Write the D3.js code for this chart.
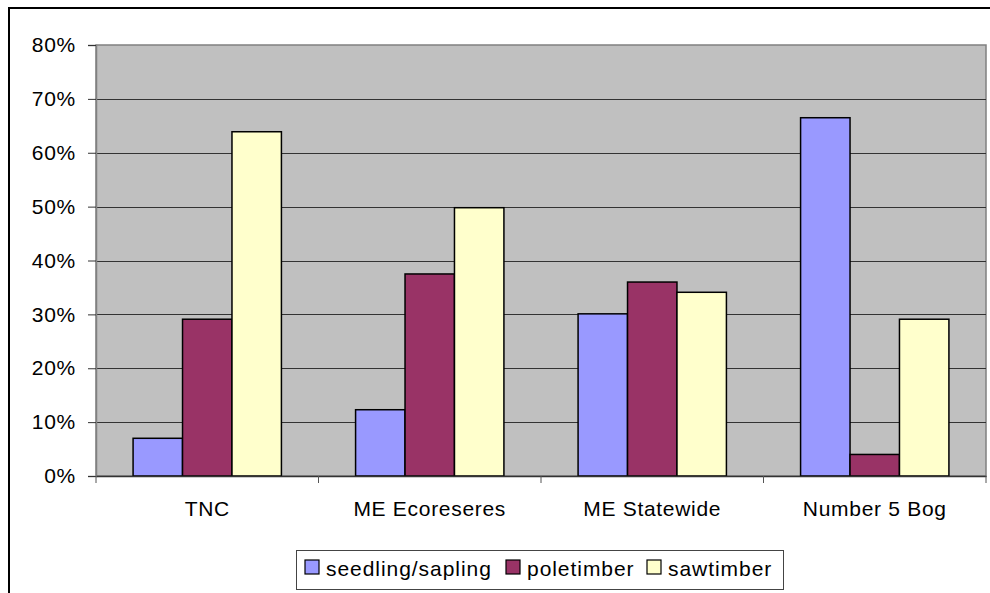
<!DOCTYPE html>
<html>
<head>
<meta charset="utf-8">
<script src="https://cdn.jsdelivr.net/npm/d3@7"></script>
<style>
body { margin: 0; background: #fff; }
text { font-family: "Liberation Sans", Arial, sans-serif; fill: #000; }
</style>
</head>
<body>
<div id="chart"></div>
<script>
var categories = ["TNC", "ME Ecoreseres", "ME Statewide", "Number 5 Bog"];
var seriesNames = ["seedling/sapling", "poletimber", "sawtimber"];
var seedling = [0.070, 0.123, 0.301, 0.665];
var poletimber = [0.291, 0.375, 0.360, 0.040];
var sawtimber = [0.639, 0.498, 0.341, 0.291];
var yTicks = [0, 0.1, 0.2, 0.3, 0.4, 0.5, 0.6, 0.7, 0.8];
var colors = ["#9999FF", "#993366", "#FFFFCC"];

var W = 990, H = 593;
var plot = {left: 96, top: 45, right: 986, bottom: 476};

var svg = d3.select("#chart").append("svg")
    .attr("width", W)
    .attr("height", H);

// outer chart frame (cropped at right and bottom)
svg.append("path")
    .attr("d", "M9," + H + "V8H" + (W + 5))
    .attr("fill", "none")
    .attr("stroke", "#000")
    .attr("stroke-width", 2);

var x0 = d3.scaleBand().domain(categories).range([plot.left, plot.right]);
var x1 = d3.scaleBand().domain(seriesNames).range([0, x0.bandwidth()])
    .paddingInner(0).paddingOuter(0.75);
var y = d3.scaleLinear().domain([0, 0.8]).range([plot.bottom, plot.top]);

svg.append("rect")
    .attr("x", plot.left)
    .attr("y", plot.top)
    .attr("width", plot.right - plot.left)
    .attr("height", plot.bottom - plot.top)
    .attr("fill", "#C0C0C0")
    .attr("stroke", "#808080")
    .attr("stroke-width", 1.5);

// gridlines
svg.append("g").selectAll("line")
    .data(yTicks.slice(1, -1))
    .enter().append("line")
    .attr("x1", plot.left)
    .attr("x2", plot.right)
    .attr("y1", function(d) { return Math.round(y(d)) + 0.5; })
    .attr("y2", function(d) { return Math.round(y(d)) + 0.5; })
    .attr("stroke", "#333")
    .attr("stroke-width", 1.2);

var data = categories.map(function(c, i) {
    return {cat: c, values: [seedling[i], poletimber[i], sawtimber[i]]};
});

var groups = svg.append("g").selectAll("g")
    .data(data)
    .enter().append("g")
    .attr("transform", function(d) { return "translate(" + x0(d.cat) + ",0)"; });

groups.selectAll("rect")
    .data(function(d) { return d.values.map(function(v, j) { return {name: seriesNames[j], value: v, j: j}; }); })
    .enter().append("rect")
    .attr("x", function(d) { return x1(d.name); })
    .attr("y", function(d) { return y(d.value); })
    .attr("width", x1.bandwidth())
    .attr("height", function(d) { return y(0) - y(d.value); })
    .attr("fill", function(d) { return colors[d.j]; })
    .attr("stroke", "#000")
    .attr("stroke-width", 1.5);

// y axis
var yAxis = svg.append("g")
    .attr("transform", "translate(" + plot.left + ",0)")
    .call(d3.axisLeft(y).tickValues(yTicks).tickFormat(d3.format(".0%")).tickSize(8).tickPadding(12));
yAxis.select(".domain").attr("stroke", "#808080").attr("stroke-width", 1.5);
yAxis.selectAll(".tick line").attr("stroke", "#333");
yAxis.selectAll("text")
    .style("font-size", "21px")
    .style("letter-spacing", "0.7px")
    .attr("fill", "#000");

// x axis
var xAxis = svg.append("g")
    .attr("transform", "translate(0," + plot.bottom + ")")
    .call(d3.axisBottom(x0).tickSize(0));
xAxis.select(".domain").attr("stroke", "#333").attr("stroke-width", 1.5);
xAxis.selectAll("text")
    .attr("y", 40)
    .attr("dy", 0)
    .style("font-size", "21px")
    .style("letter-spacing", "0.7px")
    .attr("fill", "#000");
xAxis.selectAll(".sep")
    .data(categories.concat(["end"]))
    .enter().append("line")
    .attr("class", "sep")
    .attr("x1", function(d, i) { return i < categories.length ? x0(d) : plot.right; })
    .attr("x2", function(d, i) { return i < categories.length ? x0(d) : plot.right; })
    .attr("y1", 0)
    .attr("y2", 7)
    .attr("stroke", "#555")
    .attr("stroke-width", 1);

// legend
var legend = svg.append("g");
legend.append("rect")
    .attr("x", 296.5)
    .attr("y", 550.5)
    .attr("width", 487)
    .attr("height", 39)
    .attr("fill", "#fff")
    .attr("stroke", "#444")
    .attr("stroke-width", 1);
var legX = [305, 506, 647];
var items = legend.selectAll("g.item")
    .data(seriesNames)
    .enter().append("g")
    .attr("class", "item")
    .attr("transform", function(d, i) { return "translate(" + legX[i] + ",560)"; });
items.append("rect")
    .attr("width", 14)
    .attr("height", 14)
    .attr("fill", function(d, i) { return colors[i]; })
    .attr("stroke", "#000")
    .attr("stroke-width", 1.2);
items.append("text")
    .attr("x", 21)
    .attr("y", 16)
    .style("font-size", "21px")
    .style("letter-spacing", "0.95px")
    .text(function(d) { return d; });
</script>
</body>
</html>
